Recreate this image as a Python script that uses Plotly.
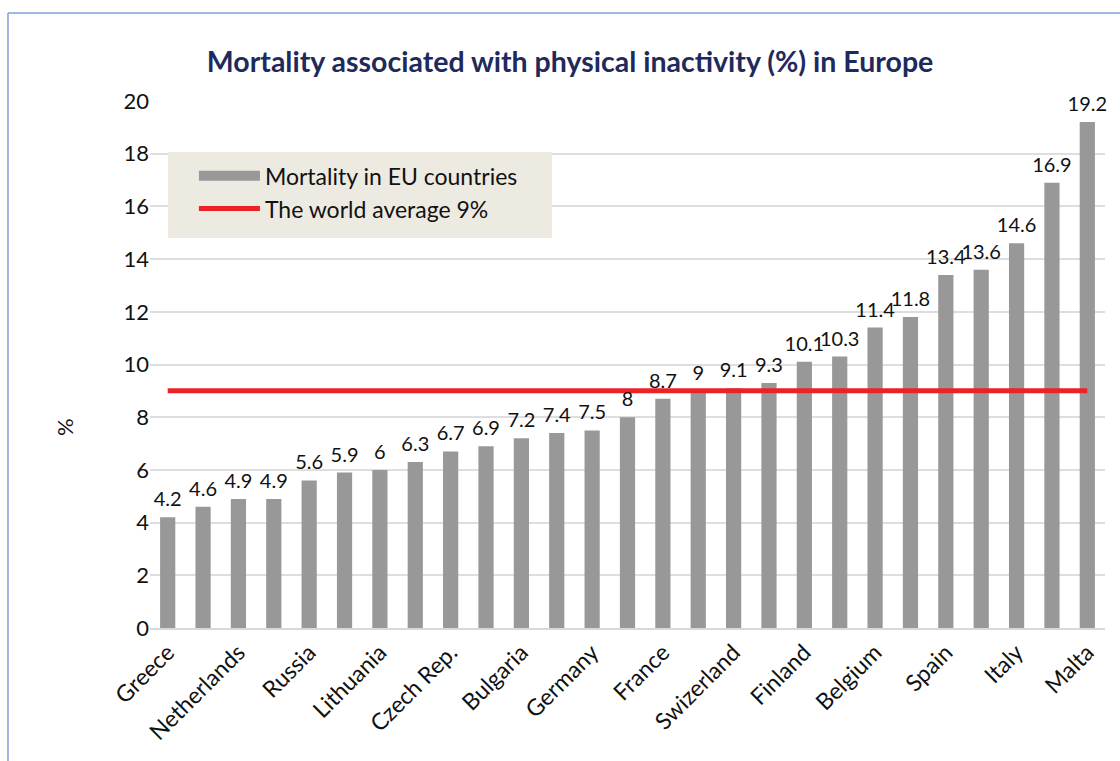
import plotly.graph_objects as go

# Data (bars sorted ascending, 27 countries; only every second label is shown)
values = [4.2, 4.6, 4.9, 4.9, 5.6, 5.9, 6, 6.3, 6.7, 6.9, 7.2, 7.4, 7.5, 8,
          8.7, 9, 9.1, 9.3, 10.1, 10.3, 11.4, 11.8, 13.4, 13.6, 14.6, 16.9, 19.2]
tick_labels = ["Greece", "Netherlands", "Russia", "Lithuania", "Czech Rep.", "Bulgaria",
               "Germany", "France", "Swizerland", "Finland", "Belgium", "Spain", "Italy", "Malta"]
world_average = 9
y_ticks = [0, 2, 4, 6, 8, 10, 12, 14, 16, 18, 20]

positions = list(range(len(values)))
tick_positions = positions[::2]

FONT = "Lato, 'Open Sans', sans-serif"
BAR_COLOR = "#989898"
RED = "#EC2226"

fig = go.Figure()
fig.add_trace(go.Bar(
    x=positions, y=values, name="Mortality in EU countries",
    marker=dict(color=BAR_COLOR, line=dict(width=0)),
    legendgroup="bars", showlegend=False,
))
# legend proxy for the bars (wide grey swatch as in the reference)
fig.add_trace(go.Scatter(
    x=[None], y=[None], mode="lines", name="Mortality in EU countries",
    line=dict(color=BAR_COLOR, width=15), legendgroup="bars", hoverinfo="skip",
))
fig.add_trace(go.Scatter(
    x=[positions[0], positions[-1]], y=[world_average, world_average],
    mode="lines", name="The world average 9%",
    line=dict(color=RED, width=5),
))
# data labels above the bars
fig.add_trace(go.Scatter(
    x=positions, y=values, mode="markers+text",
    text=[f"{v:g}" for v in values], textposition="top center",
    textfont=dict(size=20, color="#111111", family=FONT),
    marker=dict(size=8, color="rgba(0,0,0,0)"),
    showlegend=False, hoverinfo="skip", cliponaxis=False, legendgroup="bars",
))

fig.update_layout(
    width=1120, height=761,
    margin=dict(l=150, r=15, t=101, b=133),
    paper_bgcolor="white", plot_bgcolor="white",
    bargap=0.57,
    font=dict(family=FONT, color="#111111"),
    title=dict(text="<b>Mortality associated with physical inactivity (%) in Europe</b>",
               x=0.509, xanchor="center", y=0.918, yanchor="middle",
               font=dict(size=28.5, color="#1F2A5C", family=FONT)),
    legend=dict(x=0.046, y=0.899, xanchor="left", yanchor="top",
                bgcolor="rgba(0,0,0,0)", borderwidth=0,
                font=dict(size=23, color="#111111", family=FONT),
                itemwidth=61, tracegroupgap=0),
    showlegend=True,
    xaxis=dict(range=[-0.5, len(values) - 0.5], tickmode="array",
               tickvals=tick_positions, ticktext=tick_labels, tickangle=-45,
               tickfont=dict(size=23, color="#111111", family=FONT),
               showgrid=False, showline=True, linecolor="#D9D9D9", linewidth=2,
               ticks="", zeroline=False),
    yaxis=dict(range=[0, 20], tickmode="array", tickvals=y_ticks,
               tickfont=dict(size=22, color="#111111", family=FONT),
               showgrid=True, gridcolor="#DEDEDE", gridwidth=2,
               zeroline=False, ticks="", showline=False),
    annotations=[dict(text="%", textangle=-90, xref="paper", yref="paper",
                      x=(64 - 150) / 955, y=(628 - 427) / 527,
                      xanchor="center", yanchor="middle", showarrow=False,
                      font=dict(size=22, color="#111111", family=FONT))],
    shapes=[
        # legend background box
        dict(type="rect", xref="paper", yref="paper", layer="above",
             x0=(168 - 150) / 955, x1=(552 - 150) / 955,
             y0=(628 - 238) / 527, y1=(628 - 152) / 527,
             fillcolor="#EDEAE1", line=dict(width=0)),
        # outer chart border (top and left)
        dict(type="line", xref="paper", yref="paper", x0=-0.1487, x1=1.02, y0=1.167, y1=1.167,
             line=dict(color="#7EA1D8", width=1.5)),
        dict(type="line", xref="paper", yref="paper", x0=-0.1487, x1=-0.1487, y0=1.167, y1=-0.26,
             line=dict(color="#7EA1D8", width=1.5)),
    ],
)

fig.write_html("out.html", config={"displayModeBar": False},
               post_script="document.body.style.margin='0';")
